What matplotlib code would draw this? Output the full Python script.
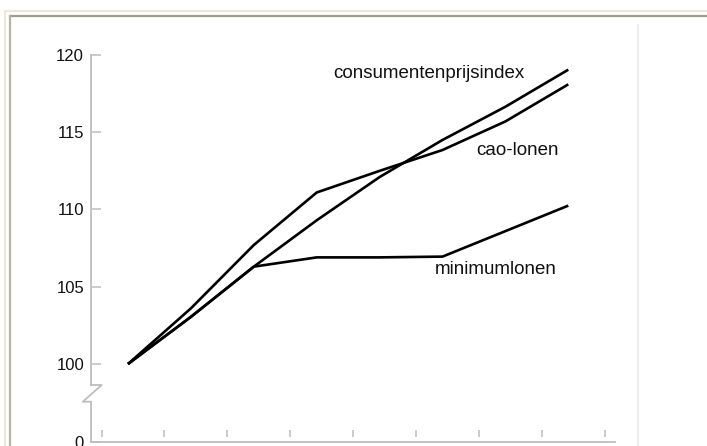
import matplotlib
matplotlib.use("Agg")
import matplotlib.pyplot as plt
from matplotlib.lines import Line2D
import numpy as np

plt.rcParams['font.family'] = ['Liberation Sans', 'DejaVu Sans']

# ---- data ----
periods = list(range(8))
cao_lonen = [100, 103.6, 107.7, 111.1, 112.5, 113.85, 115.7, 118.1]
consumentenprijsindex = [100, 103.05, 106.3, 109.3, 112.1, 114.5, 116.65, 119.05]
minimumlonen = [100, 103.05, 106.3, 106.9, 106.9, 106.95, 108.6, 110.25]
ytick_values = [100, 105, 110, 115, 120]
ytick_labels = ['100', '105', '110', '115', '120']
bottom_label = '0'
series_labels = ['consumentenprijsindex', 'cao-lonen', 'minimumlonen']

W, H = 707, 446
fig = plt.figure(figsize=(W / 100, H / 100), dpi=100)
fig.patch.set_facecolor('white')

# axes placement (pixels)
L, R, T, B = 91, 615, 55, 442
ax = fig.add_axes([L / W, (H - B) / H, (R - L) / W, (B - T) / H])
ax.set_facecolor('white')

x0px, dxpx = 128, 62.9
ax.set_xlim((L - x0px) / dxpx, (R - x0px) / dxpx)
ybot = 100 - (B - 364) / ((B - T) / 25.05) if False else 94.95
ax.set_ylim(ybot, 120)

gray = '#bdbdbd'
for s in ['top', 'right', 'left']:
    ax.spines[s].set_visible(False)
ax.spines['bottom'].set_color(gray)
ax.spines['bottom'].set_linewidth(1.3)

# y ticks
ax.set_yticks([ybot] + ytick_values)
ax.set_yticklabels([bottom_label] + ytick_labels, fontsize=12, color='#111111')
ax.tick_params(axis='y', direction='in', length=7.5, width=1.1, color=gray, pad=5)
ax.set_xticks([])

# broken y axis line
ax.plot([0, 0], [1, 0.1473], color=gray, lw=1.3, transform=ax.transAxes, clip_on=False)
ax.plot([0, 0.0204, -0.0158, 0, 0], [0.1473, 0.1473, 0.1041, 0.1041, 0],
        color=gray, lw=1.3, transform=ax.transAxes, clip_on=False)

# floating x tick marks
xt = np.arange(9) - 0.42
ax.vlines(xt, 0.0129, 0.031, color=gray, lw=1.1, transform=ax.get_xaxis_transform())

# lines
for vals in (consumentenprijsindex, cao_lonen, minimumlonen):
    ax.plot(periods, vals, color='black', lw=1.9, solid_capstyle='butt')

# labels
ax.text(0.4618, 0.9393, series_labels[0], transform=ax.transAxes, fontsize=13.5,
        ha='left', va='baseline', color='#111111')
ax.text(0.7361, 0.7416, series_labels[1], transform=ax.transAxes, fontsize=13.5,
        ha='left', va='baseline', color='#111111')
ax.text(0.6565, 0.4341, series_labels[2], transform=ax.transAxes, fontsize=13.5,
        ha='left', va='baseline', color='#111111')

# page frame decorations
fig.add_artist(Line2D([5, W], [H - 11, H - 11], color='#ece7da', lw=1.5, transform=None))
fig.add_artist(Line2D([5, 5], [H - 11, 0], color='#ece7da', lw=1.5, transform=None))
fig.add_artist(Line2D([10, W], [H - 16, H - 16], color='#9c9b8c', lw=1.6, transform=None))
fig.add_artist(Line2D([10, 10], [H - 16, 0], color='#b5b4a6', lw=1.6, transform=None))
fig.add_artist(Line2D([638, 638], [H - 25, 0], color='#eeeeee', lw=1.5, transform=None))

fig.savefig('out.png', dpi=100)
